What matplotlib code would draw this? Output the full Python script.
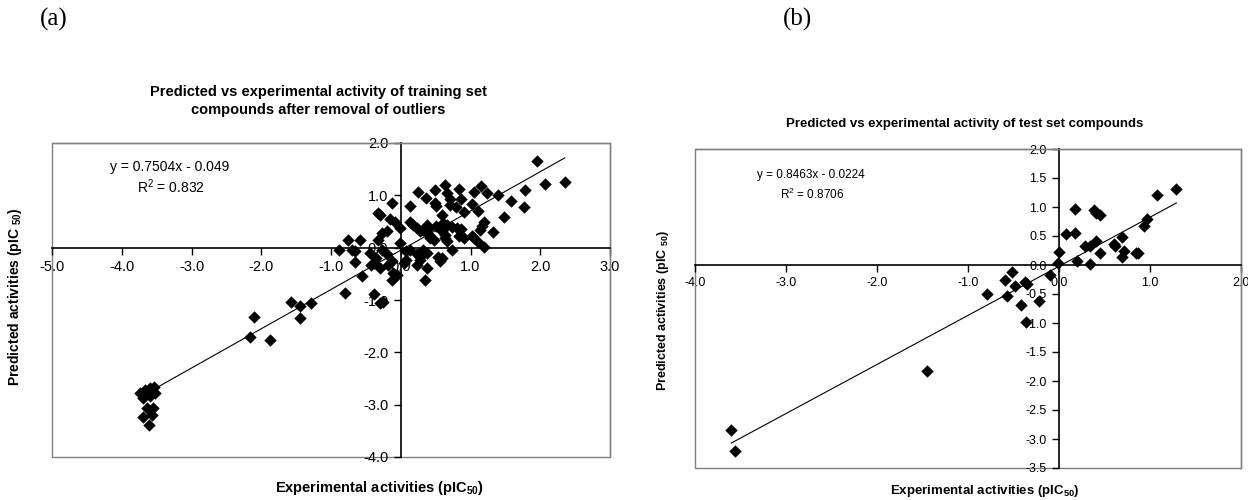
import matplotlib
matplotlib.use("Agg")
import matplotlib.pyplot as plt
import numpy as np

plt.rcParams['font.family'] = ['Liberation Sans', 'DejaVu Sans']
plt.rcParams['mathtext.fontset'] = 'custom'
plt.rcParams['mathtext.rm'] = 'Liberation Sans'
plt.rcParams['mathtext.bf'] = 'Liberation Sans:bold'
plt.rcParams['mathtext.it'] = 'Liberation Sans:italic'

# ---------------- data: training set (a) ----------------
train_exp = [
    -3.74, -3.67, -3.60, -3.54, -3.53, -3.69, -3.60, -3.64, -3.55, -3.69, -3.57, -3.61,
    -2.16, -2.11, -1.87, -1.57, -1.45, -1.45, -1.28, -0.80, -0.39, -0.30, -0.25, -0.56,
    -0.89, -0.75, -0.58, -0.70, -0.66, -0.44, -0.32, -0.27, -0.20, -0.35, -0.66, -0.42,
    -0.39, -0.30, -0.18, -0.13, -0.06, -0.11, -0.13, 0.35, 0.37,
    -0.01, 0.08, 0.13, 0.23, 0.28, 0.32, 0.37, 0.54, 0.08, 0.04, 0.23, 0.28, 0.59, 0.56, 0.73,
    -0.32, -0.30, -0.15, -0.08, -0.01, -0.13, -0.27, -0.20,
    0.13, 0.18, 0.23, 0.28, 0.32, 0.37, 0.40, 0.51, 0.61, 0.40, 0.42, 0.47, 0.59, 0.64,
    0.63, 0.25, 0.49, 0.36, 0.13, 0.49, 0.51,
    0.66, 0.83, 0.71, 0.87, 0.71, 0.79, 1.02, 0.91, 1.11, 0.59, 1.05, 1.15, 1.23, 1.39,
    1.19, 1.16, 1.14, 1.32, 0.66, 0.73, 0.80, 0.86, 0.83, 0.90, 1.02, 1.04, 0.64, 0.66, 1.11, 1.20,
    1.48, 1.58, 1.77, 1.78, 1.95, 2.07, 2.35,
]
train_pred = [
    -2.78, -2.72, -2.68, -2.66, -2.78, -2.87, -2.84, -3.07, -3.07, -3.23, -3.19, -3.38,
    -1.71, -1.33, -1.76, -1.04, -1.11, -1.34, -1.06, -0.87, -0.88, -1.06, -1.03, -0.55,
    -0.04, 0.14, 0.14, -0.05, -0.07, -0.10, 0.14, -0.04, -0.13, -0.20, -0.28, -0.33,
    -0.29, -0.39, -0.33, -0.26, -0.52, -0.48, -0.61, -0.61, -0.39,
    0.09, -0.07, -0.04, -0.13, -0.17, -0.04, -0.10, -0.17, -0.23, -0.29, -0.33, -0.23, -0.20, -0.26, -0.05,
    0.66, 0.63, 0.54, 0.50, 0.38, 0.85, 0.28, 0.31,
    0.50, 0.44, 0.38, 0.31, 0.34, 0.44, 0.38, 0.41, 0.47, 0.25, 0.19, 0.15, 0.31, 0.25,
    1.20, 1.06, 1.11, 0.95, 0.80, 0.86, 0.79,
    1.05, 1.12, 0.93, 0.93, 0.82, 0.78, 0.84, 0.68, 0.70, 0.63, 1.06, 1.17, 1.05, 1.01,
    0.50, 0.42, 0.34, 0.29, 0.44, 0.40, 0.38, 0.36, 0.22, 0.18, 0.23, 0.20, 0.19, 0.12, 0.10, 0.01,
    0.59, 0.90, 0.78, 1.10, 1.66, 1.22, 1.26,
]
train_slope, train_icpt = 0.7504, -0.049
train_xticks = [-5.0, -4.0, -3.0, -2.0, -1.0, 0.0, 1.0, 2.0, 3.0]
train_yticks = [2.0, 1.0, 0.0, -1.0, -2.0, -3.0, -4.0]

# ---------------- data: test set (b) ----------------
test_exp = [
    -3.60, -3.56, -1.45, -0.79, -0.57, -0.59, -0.52, -0.48, -0.37, -0.35, -0.42, -0.36,
    -0.22, -0.10, 0.00, -0.01, 0.08, 0.18, 0.18, 0.38, 0.41, 0.45, 0.29, 0.34, 0.41,
    0.45, 0.20, 0.34, 0.60, 0.62, 0.69, 0.71, 0.69, 0.85, 0.87, 0.93, 0.97, 1.08, 1.29,
]
test_pred = [
    -2.85, -3.21, -1.83, -0.50, -0.54, -0.25, -0.12, -0.36, -0.29, -0.33, -0.69, -0.98,
    -0.62, -0.17, 0.22, 0.03, 0.54, 0.56, 0.97, 0.95, 0.90, 0.86, 0.33, 0.32, 0.42,
    0.20, 0.07, 0.02, 0.36, 0.32, 0.49, 0.25, 0.14, 0.21, 0.21, 0.67, 0.79, 1.21, 1.31,
]
test_slope, test_icpt = 0.8463, -0.0224
test_xticks = [-4.0, -3.0, -2.0, -1.0, 0.0, 1.0, 2.0]
test_yticks = [2.0, 1.5, 1.0, 0.5, 0.0, -0.5, -1.0, -1.5, -2.0, -2.5, -3.0, -3.5]

W, H = 1248, 500
fig = plt.figure(figsize=(W / 100, H / 100), dpi=100)


def fx(x):
    return x / W


def fy(y):
    return 1 - y / H


def make_axes(l, t, r, b):
    return fig.add_axes([fx(l), fy(b), (r - l) / W, (b - t) / H])


def style(ax, xs, ys, xlim, ylim, fs):
    ax.set_xlim(*xlim)
    ax.set_ylim(*ylim)
    for s in ['top', 'right']:
        ax.spines[s].set_color('#808080')
        ax.spines[s].set_linewidth(1.0)
    ax.spines['left'].set_position(('data', 0))
    ax.spines['bottom'].set_position(('data', 0))
    ax.spines['left'].set_color('black')
    ax.spines['bottom'].set_color('black')
    ax.spines['left'].set_linewidth(1.2)
    ax.spines['bottom'].set_linewidth(1.2)
    ax.add_patch(plt.Rectangle((0, 0), 1, 1, transform=ax.transAxes, fill=False,
                               edgecolor='#808080', lw=1.0, zorder=0.5, clip_on=False))
    ax.set_xticks(xs)
    ax.set_yticks(ys)
    ax.set_xticklabels([f"{v:.1f}" for v in xs])
    ax.set_yticklabels([f"{v:.1f}" for v in ys])
    ax.tick_params(direction='out', length=5, width=1, labelsize=fs, colors='black', pad=4)


# ---------------- (a) ----------------
axa = make_axes(52, 143, 610, 457)
style(axa, train_xticks, train_yticks, (-5.0, 3.0), (-4.0, 2.0), 10.5)
axa.scatter(train_exp, train_pred, marker='D', s=40, color='black', zorder=3, linewidths=0)
xa = np.array([min(train_exp), max(train_exp)])
axa.plot(xa, train_slope * xa + train_icpt, color='black', lw=0.8, zorder=2)

fig.text(fx(318), fy(101), "Predicted vs experimental activity of training set\ncompounds after removal of outliers",
         ha='center', va='center', fontsize=10.5, fontweight='bold', linespacing=1.45)
fig.text(fx(170), fy(167), "y = 0.7504x - 0.049", ha='center', va='center', fontsize=10)
fig.text(fx(171), fy(187), "R$^2$ = 0.832", ha='center', va='center', fontsize=10)
fig.text(fx(15), fy(297), "Predicted activities (pIC $_{\\mathbf{50}}$)", rotation=90,
         ha='center', va='center', fontsize=10, fontweight='bold')
fig.text(fx(380), fy(488), "Experimental activities (pIC$_{\\mathbf{50}}$)",
         ha='center', va='center', fontsize=10.5, fontweight='bold')
fig.text(fx(54), fy(19), "(a)", ha='center', va='center', fontsize=18, family='Liberation Serif')

# ---------------- (b) ----------------
axb = make_axes(695, 149, 1241, 468)
style(axb, test_xticks, test_yticks, (-4.0, 2.0), (-3.5, 2.0), 9)
axb.scatter(test_exp, test_pred, marker='D', s=40, color='black', zorder=3, linewidths=0)
xb = np.array([min(test_exp), max(test_exp)])
axb.plot(xb, test_slope * xb + test_icpt, color='black', lw=0.8, zorder=2)

fig.text(fx(965), fy(124), "Predicted vs experimental activity of test set compounds",
         ha='center', va='center', fontsize=9.5, fontweight='bold')
fig.text(fx(811), fy(175), "y = 0.8463x - 0.0224", ha='center', va='center', fontsize=8.5)
fig.text(fx(812), fy(194), "R$^2$ = 0.8706", ha='center', va='center', fontsize=8.5)
fig.text(fx(663), fy(310), "Predicted activities (pIC $_{\\mathbf{50}}$)", rotation=90,
         ha='center', va='center', fontsize=9, fontweight='bold')
fig.text(fx(985), fy(491), "Experimental activities (pIC$_{\\mathbf{50}}$)",
         ha='center', va='center', fontsize=9.5, fontweight='bold')
fig.text(fx(798), fy(19), "(b)", ha='center', va='center', fontsize=18, family='Liberation Serif')

fig.savefig("out.png", dpi=100)
